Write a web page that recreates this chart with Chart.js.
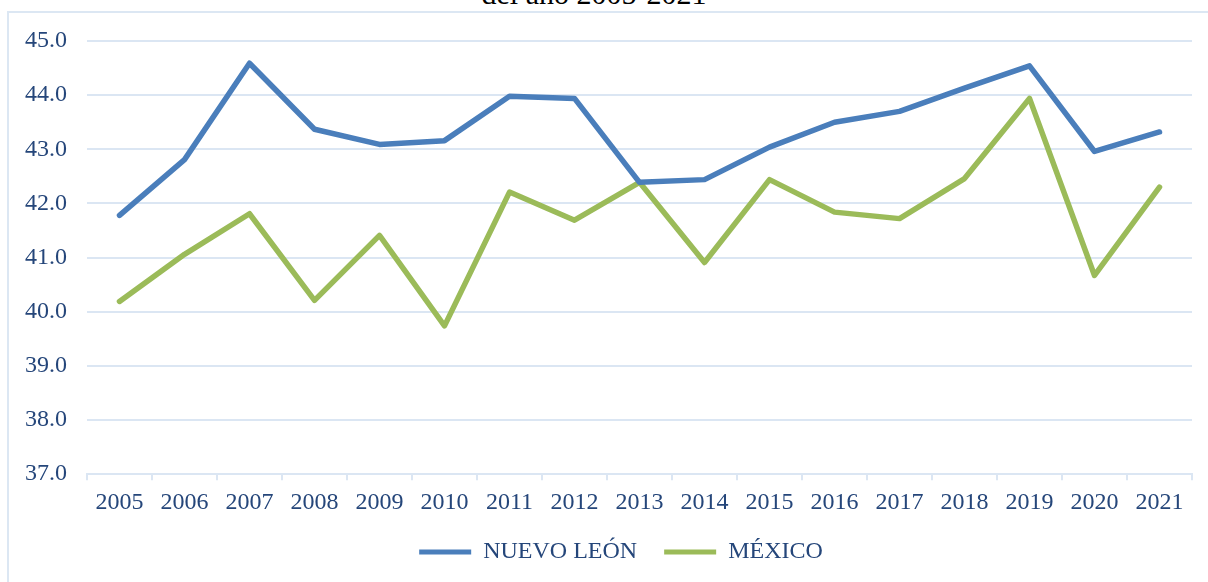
<!DOCTYPE html>
<html>
<head>
<meta charset="utf-8">
<script src="https://cdn.jsdelivr.net/npm/chart.js@4"></script>
<style>
    body { margin: 0; background: #fff; overflow: hidden; width: 1208px; height: 582px; position: relative; }
    #marco { position: absolute; left: 7px; top: 11px; width: 1400px; height: 800px; border: 2px solid #dce7f3; }
    #titulo { position: absolute; top: -21px; left: 394px; width: 400px; text-align: center;
              font-family: "Liberation Serif", serif; font-size: 30px; line-height: 30px; color: #000; }
    #wrap { position: absolute; left: 0; top: 0; width: 1208px; height: 582px; }
</style>
</head>
<body>
<div id="marco"></div>
<div id="titulo">del año 2005-2021</div>
<div id="wrap"><canvas id="grafica" width="1208" height="582"></canvas></div>
<script>
// Años y valores
const anios = ["2005", "2006", "2007", "2008", "2009", "2010", "2011", "2012", "2013",
    "2014", "2015", "2016", "2017", "2018", "2019", "2020", "2021"];
const nuevoLeon = [41.78, 42.81, 44.59, 43.37, 43.09, 43.16, 43.98, 43.94, 42.39,
    42.44, 43.04, 43.50, 43.70, 44.13, 44.54, 42.96, 43.32];
const mexico = [40.19, 41.06, 41.81, 40.21, 41.41, 39.74, 42.21, 41.69, 42.39,
    40.91, 42.44, 41.84, 41.72, 42.46, 43.94, 40.67, 42.30];
const etiquetas = ["NUEVO LEÓN", "MÉXICO"];

const azul = "#4a7ebb";
const verde = "#9bbb59";
const texto = "#25467a";
const rejilla = "#dbe6f3";
const fuente = "'Liberation Serif', 'Times New Roman', serif";

// mueve la leyenda un poco a la derecha y hacia arriba, como en el original
const moverLeyenda = {
    id: "moverLeyenda",
    afterLayout(chart) {
        const l = chart.legend;
        l.left += 25; l.right += 25;
        l.top -= 12; l.bottom -= 12;
    }
};

const ctx = document.getElementById("grafica").getContext("2d");
new Chart(ctx, {
    type: "line",
    data: {
        labels: anios,
        datasets: [
            { label: etiquetas[0], data: nuevoLeon, borderColor: azul, backgroundColor: azul,
              borderWidth: 5.5, pointRadius: 0, tension: 0, borderCapStyle: "round", borderJoinStyle: "round" },
            { label: etiquetas[1], data: mexico, borderColor: verde, backgroundColor: verde,
              borderWidth: 5.5, pointRadius: 0, tension: 0, borderCapStyle: "round", borderJoinStyle: "round" }
        ]
    },
    options: {
        responsive: false,
        animation: false,
        layout: { padding: { left: 0, right: 16, top: 41, bottom: 4 } },
        scales: {
            x: {
                offset: true,
                grid: { offset: true, drawOnChartArea: false, drawTicks: true, tickLength: 6, color: rejilla, lineWidth: 2 },
                border: { color: rejilla, width: 2 },
                ticks: { color: texto, font: { family: fuente, size: 24 }, padding: 8, maxRotation: 0 }
            },
            y: {
                min: 37, max: 45,
                afterFit: (scale) => { scale.width = 87; },
                grid: { color: rejilla, lineWidth: 2, drawTicks: false },
                border: { display: false },
                ticks: { stepSize: 1, color: texto, font: { family: fuente, size: 24 }, padding: 20,
                         callback: (v) => Number(v).toFixed(1) }
            }
        },
        plugins: {
            legend: {
                position: "bottom",
                maxHeight: 53,
                labels: {
                    color: texto,
                    font: { family: fuente, size: 24 },
                    boxWidth: 52, boxHeight: 5, padding: 27,
                    generateLabels: (chart) => chart.data.datasets.map((ds, i) => ({
                        text: ds.label, fillStyle: ds.borderColor, strokeStyle: ds.borderColor,
                        lineWidth: 0, datasetIndex: i, fontColor: texto
                    }))
                }
            },
            tooltip: { enabled: false }
        }
    },
    plugins: [moverLeyenda]
});
</script>
</body>
</html>
